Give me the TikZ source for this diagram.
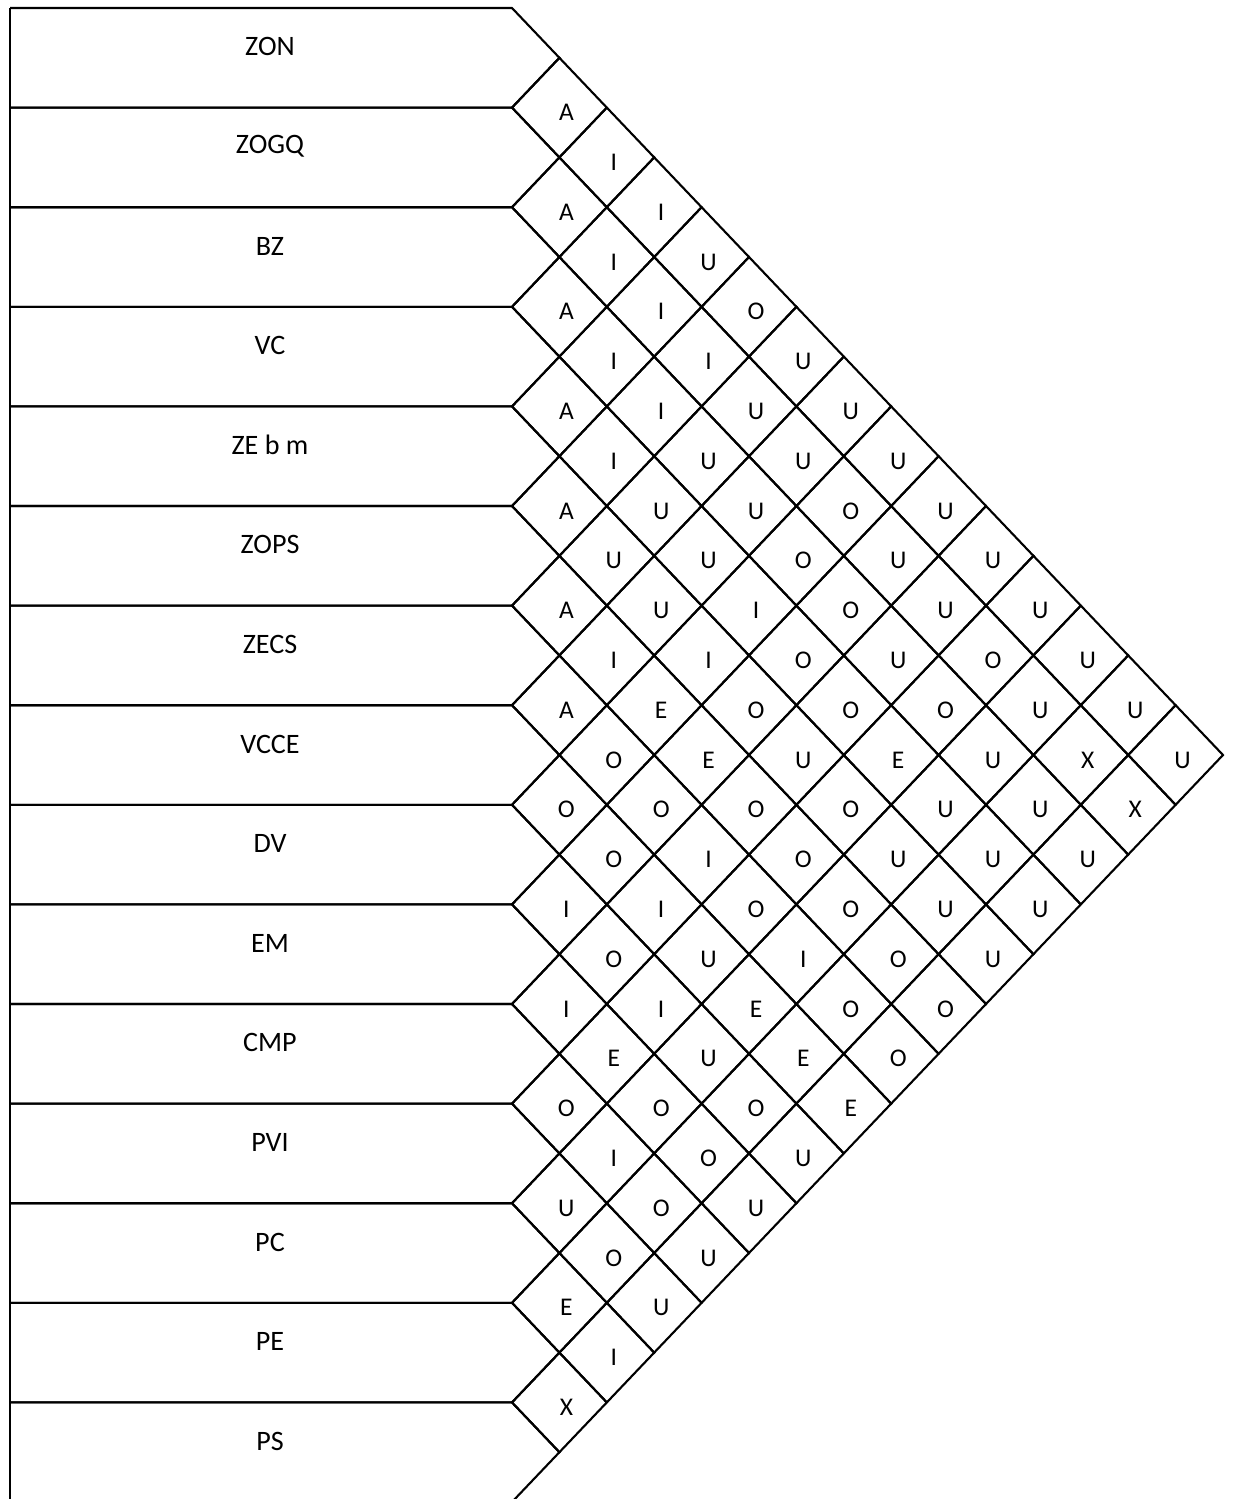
\documentclass[tikz,border=0pt]{standalone}
\usepackage{fontspec}
\setmainfont{Carlito}
\usetikzlibrary{calc}

\begin{document}
\begin{tikzpicture}[x=0.02cm, y=-0.02cm, line width=1.2pt,
    dept/.style={font=\fontsize{16}{19}\selectfont},
    rel/.style={font=\fontsize{14.5}{17}\selectfont}]
  \useasboundingbox (0,0) rectangle (1232,1499);
  \def\hw{47.4}
  \def\hh{49.8}
  % departments
  \foreach \name [count=\i] in {ZON,ZOGQ,BZ,VC,ZE b m,ZOPS,ZECS,VCCE,DV,EM,CMP,PVI,PC,PE,PS} {
    \pgfmathsetmacro{\yt}{8+2*\hh*(\i-1)}
    \draw (10,\yt) -- (512,\yt) -- (512+\hw,\yt+\hh) -- (512,\yt+2*\hh) -- (10,\yt+2*\hh);
    \node[dept] (dept\i) at (270,\yt+\hh-11) {\name};
  }
  \draw (10,8) -- (10,1510);
  % relationship diamonds
  \foreach \row [count=\i] in {
      {A,I,I,U,O,U,U,U,U,U,U,U,U,U},
      {A,I,I,I,U,U,O,U,U,O,U,X,X},
      {A,I,I,U,U,O,O,U,O,U,U,U},
      {A,I,U,U,I,O,O,E,U,U,U},
      {A,U,U,I,O,U,O,U,U,U},
      {A,I,E,E,O,O,O,O,O},
      {A,O,O,I,O,I,O,O},
      {O,O,I,U,E,E,E},
      {I,O,I,U,O,U},
      {I,E,O,O,U},
      {O,I,O,U},
      {U,O,U},
      {E,I},
      {X}} {
    \foreach \r [count=\k] in \row {
      \pgfmathsetmacro{\cx}{512+\hw*\k}
      \pgfmathsetmacro{\cy}{8-\hh+\hh*(2*\i+\k)}
      \draw (\cx-\hw,\cy) -- (\cx,\cy-\hh) -- (\cx+\hw,\cy) -- (\cx,\cy+\hh) -- cycle;
      \node[rel] (r\i-\k) at (\cx+7,\cy+5) {\r};
    }
  }
\end{tikzpicture}
\end{document}
